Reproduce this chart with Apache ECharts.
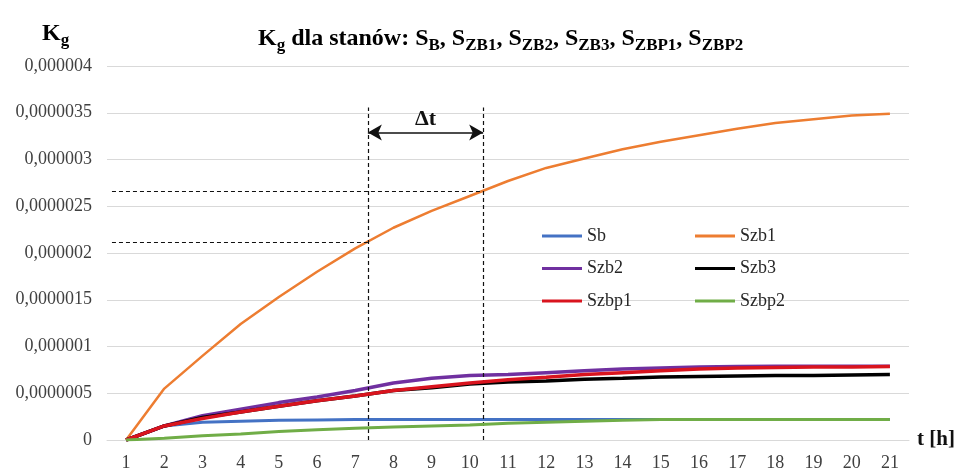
<!DOCTYPE html>
<html>
<head>
<meta charset="utf-8">
<script src="https://cdn.jsdelivr.net/npm/echarts@6/dist/echarts.min.js"></script>
<style>
html,body{margin:0;padding:0;background:#fff;}
#chart{width:959px;height:472px;}
</style>
</head>
<body>
<div id="chart"></div>
<script>
// ---- data ----
const categories = ['1','2','3','4','5','6','7','8','9','10','11','12','13','14','15','16','17','18','19','20','21'];
const seriesNames = ['Sb','Szb1','Szb2','Szb3','Szbp1','Szbp2'];
const sb    = [0, 0.15e-6, 0.19e-6, 0.20e-6, 0.21e-6, 0.215e-6, 0.22e-6, 0.22e-6, 0.22e-6, 0.22e-6, 0.22e-6, 0.22e-6, 0.22e-6, 0.22e-6, 0.22e-6, 0.22e-6, 0.22e-6, 0.22e-6, 0.22e-6, 0.22e-6, 0.22e-6];
const szb1  = [0, 0.55e-6, 0.90e-6, 1.24e-6, 1.53e-6, 1.80e-6, 2.05e-6, 2.27e-6, 2.45e-6, 2.61e-6, 2.77e-6, 2.91e-6, 3.01e-6, 3.11e-6, 3.19e-6, 3.26e-6, 3.33e-6, 3.39e-6, 3.43e-6, 3.47e-6, 3.49e-6];
const szb2  = [0, 0.15e-6, 0.26e-6, 0.33e-6, 0.40e-6, 0.46e-6, 0.53e-6, 0.61e-6, 0.66e-6, 0.69e-6, 0.70e-6, 0.72e-6, 0.74e-6, 0.76e-6, 0.77e-6, 0.78e-6, 0.785e-6, 0.79e-6, 0.79e-6, 0.79e-6, 0.79e-6];
const szb3  = [0, 0.15e-6, 0.24e-6, 0.30e-6, 0.36e-6, 0.42e-6, 0.47e-6, 0.53e-6, 0.56e-6, 0.60e-6, 0.62e-6, 0.63e-6, 0.65e-6, 0.66e-6, 0.675e-6, 0.68e-6, 0.685e-6, 0.69e-6, 0.69e-6, 0.695e-6, 0.70e-6];
const szbp1 = [0, 0.15e-6, 0.23e-6, 0.30e-6, 0.36e-6, 0.42e-6, 0.47e-6, 0.53e-6, 0.57e-6, 0.61e-6, 0.645e-6, 0.67e-6, 0.70e-6, 0.72e-6, 0.74e-6, 0.76e-6, 0.77e-6, 0.775e-6, 0.78e-6, 0.78e-6, 0.785e-6];
const szbp2 = [0, 0.02e-6, 0.045e-6, 0.065e-6, 0.09e-6, 0.11e-6, 0.125e-6, 0.14e-6, 0.15e-6, 0.16e-6, 0.18e-6, 0.19e-6, 0.20e-6, 0.21e-6, 0.22e-6, 0.22e-6, 0.22e-6, 0.22e-6, 0.22e-6, 0.22e-6, 0.22e-6];
const yTickLabels = ['0','0,0000005','0,000001','0,0000015','0,000002','0,0000025','0,000003','0,0000035','0,000004'];
// annotation (Δt)
const dtStart = 7.33, dtEnd = 10.35;          // t positions of the dashed verticals
const kAtStart = 2.116e-6, kAtEnd = 2.656e-6;  // Kg levels of the dashed horizontals
const guideLeft = 0.63, guideTop = 3.556e-6, guideBottom = 0, arrowLevel = 3.29e-6;

const colors = ['#4472C4','#ED7D31','#7030A0','#000000','#D9141E','#70AD47'];
const widths = [3, 2.5, 3.5, 3.5, 3.5, 3];
const values = [sb, szb1, szb2, szb3, szbp1, szbp2];
const serif = 'Liberation Serif';

const chart = echarts.init(document.getElementById('chart'), null, {renderer:'canvas'});

const lineSeries = seriesNames.map((n,i)=>({
  name:n, type:'line', data:values[i], showSymbol:false, symbol:'none',
  lineStyle:{color:colors[i], width:widths[i]}, itemStyle:{color:colors[i]},
  z:2+i, animation:false
}));

const dash = {type:[4,3], color:'#111', width:1.2};
const annot = {
  type:'line', xAxisIndex:1, data:[], clip:false, silent:true, animation:false,
  markLine:{
    silent:true, animation:false, symbol:['none','none'], label:{show:false},
    lineStyle:dash,
    data:[
      [{coord:[guideLeft,kAtStart]},{coord:[dtStart,kAtStart]}],
      [{coord:[guideLeft,kAtEnd]},{coord:[dtEnd,kAtEnd]}],
      [{coord:[dtStart,guideBottom]},{coord:[dtStart,guideTop]}],
      [{coord:[dtEnd,guideBottom]},{coord:[dtEnd,guideTop]}],
      [{coord:[dtStart,arrowLevel],symbol:'arrow',symbolSize:[12,14]},
       {coord:[dtEnd,arrowLevel],symbol:'arrow',symbolSize:[12,14],
        lineStyle:{type:'solid',color:'#111',width:1.5},
        label:{show:true,position:'middle',formatter:'Δt',fontFamily:serif,fontWeight:'bold',fontSize:22,color:'#111',distance:2}}]
    ]
  }
};

const subStyle = {fontFamily:serif,fontWeight:'bold',fontSize:17,color:'#000',verticalAlign:'bottom',lineHeight:17};
const mainStyle = {fontFamily:serif,fontWeight:'bold',fontSize:24,color:'#000',lineHeight:30};

chart.setOption({
  animation:false,
  backgroundColor:'#fff',
  title:[
    {text:'{b|K}{s|g}{b| dla stanów: S}{s|B}{b|, S}{s|ZB1}{b|, S}{s|ZB2}{b|, S}{s|ZB3}{b|, S}{s|ZBP1}{b|, S}{s|ZBP2}',
     left:253, top:19, textStyle:{rich:{b:mainStyle,s:subStyle}}},
    {text:'{b|K}{s|g}', left:37, top:14, textStyle:{rich:{b:mainStyle,s:subStyle}}}
  ],
  legend:[
    {data:['Sb','Szb2','Szbp1'], orient:'vertical', left:537, top:221, icon:'rect', itemWidth:40, itemHeight:3, itemGap:12.5,
     textStyle:{fontFamily:serif,fontSize:18,color:'#262626',lineHeight:20}},
    {data:['Szb1','Szb3','Szbp2'], orient:'vertical', left:690, top:221, icon:'rect', itemWidth:40, itemHeight:3, itemGap:12.5,
     textStyle:{fontFamily:serif,fontSize:18,color:'#262626',lineHeight:20}}
  ],
  grid:{left:107, right:50, top:66, bottom:28, containLabel:false},
  xAxis:[
    {type:'category', data:categories, boundaryGap:true,
     axisLine:{show:true,lineStyle:{color:'#d9d9d9',width:1}}, axisTick:{show:false},
     axisLabel:{fontFamily:serif,fontSize:18,color:'#404040',margin:14},
     name:'t [h]', nameLocation:'end', nameGap:8,
     nameTextStyle:{fontFamily:serif,fontWeight:'bold',fontSize:21,color:'#111',verticalAlign:'middle'}},
    {type:'value', min:0.5, max:21.5, show:false}
  ],
  yAxis:{type:'value', min:0, max:4e-6, interval:0.5e-6,
    axisLine:{show:false}, axisTick:{show:false},
    splitLine:{lineStyle:{color:'#d9d9d9',width:1}},
    axisLabel:{fontFamily:serif,fontSize:18,color:'#404040',margin:15,
      formatter:function(v){return yTickLabels[Math.round(v/0.5e-6)];}}
  },
  series:lineSeries.concat([annot])
});
</script>
</body>
</html>
